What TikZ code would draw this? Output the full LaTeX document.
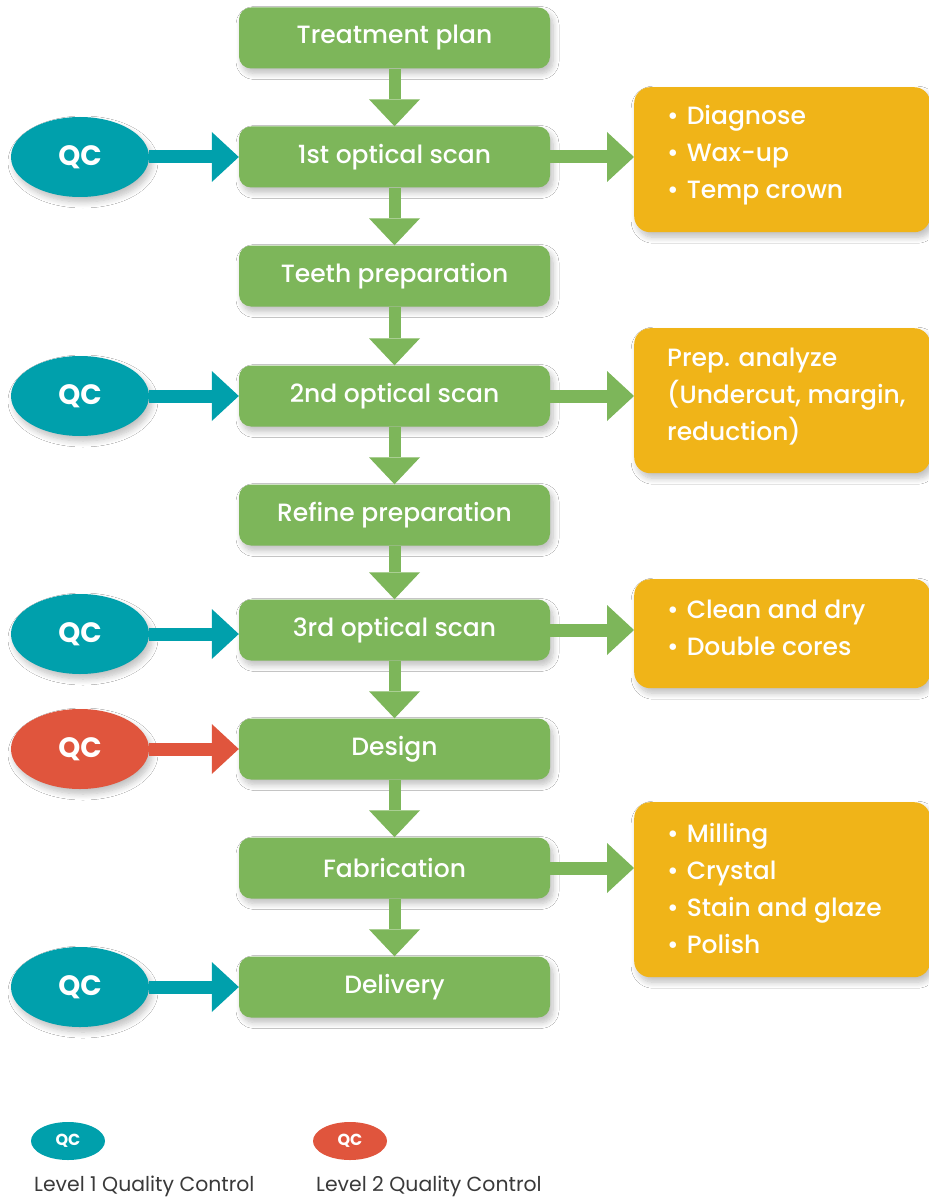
\documentclass[tikz,border=0pt]{standalone}
\usepackage{fontspec}
\setmainfont{Poppins}
\newfontfamily\medfont{Poppins Medium}
\usetikzlibrary{shapes.geometric,shadows.blur}
\definecolor{grn}{HTML}{7DB65A}
\definecolor{teal}{HTML}{00A0AC}
\definecolor{red}{HTML}{E0553D}
\definecolor{org}{HTML}{F0B418}
\definecolor{txt}{HTML}{3A3A3A}
\tikzset{
  shd/.style={blur shadow={shadow xshift=3pt,shadow yshift=-5pt,shadow blur steps=8,shadow opacity=25,shadow blur radius=6pt}},
  stepbox/.style={shd,fill=grn,rounded corners=12pt,minimum width=311pt,minimum height=61pt,inner sep=0pt,
    text=white,font=\medfont\fontsize{25}{28}\selectfont},
  infobox/.style={shd,fill=org,rounded corners=16pt,minimum width=296pt,inner sep=0pt,anchor=north west},
  infotext/.style={text=white,font=\medfont\fontsize{25}{37}\selectfont,align=left,anchor=west,inner sep=0pt},
  qc/.style={shd,ellipse,fill=#1,minimum width=138pt,minimum height=80pt,inner sep=0pt,text=white,
    font=\fontsize{28}{30}\selectfont\bfseries},
  qcs/.style={ellipse,fill=#1,minimum width=74pt,minimum height=38pt,inner sep=0pt,text=white,
    font=\fontsize{16}{18}\selectfont\bfseries},
  legend/.style={text=txt,font=\fontsize{20.4}{24}\selectfont,anchor=west,inner sep=0pt}
}
\newcommand{\varr}[2]{%
  \fill[grn] ([xshift=-6pt]#1.south) rectangle ([xshift=6pt,yshift=27pt]#2.north);
  \fill[grn] ([xshift=-25.5pt,yshift=27pt]#2.north) -- (#2.north) -- ([xshift=25.5pt,yshift=27pt]#2.north) -- cycle;}
\newcommand{\harr}[3]{%
  \fill[#3] ([yshift=6.5pt]#1.east) rectangle ([xshift=-27pt,yshift=-6.5pt]#2.west |- #1.east);
  \fill[#3] ([xshift=-27pt,yshift=25pt]#2.west |- #1.east) -- (#2.west |- #1.east) -- ([xshift=-27pt,yshift=-25pt]#2.west |- #1.east) -- cycle;}
\newcommand{\bul}{•\hspace{8pt}}
\begin{document}
\begin{tikzpicture}[x=1pt,y=-1pt]
\useasboundingbox (0,0) rectangle (928,1198);
\fill[white] (0,0) rectangle (928,1198);
% green steps
\node[stepbox] (s1) at (394.5,38) {Treatment plan};
\node[stepbox] (s2) at (394.5,157) {1st optical scan};
\node[stepbox] (s3) at (394.5,276) {Teeth preparation};
\node[stepbox] (s4) at (394.5,396) {2nd optical scan};
\node[stepbox] (s5) at (394.5,515) {Refine preparation};
\node[stepbox] (s6) at (394.5,630) {3rd optical scan};
\node[stepbox] (s7) at (394.5,749) {Design};
\node[stepbox] (s8) at (394.5,868) {Fabrication};
\node[stepbox] (s9) at (394.5,987) {Delivery};
% QC ellipses
\node[qc=teal] (q2) at (80,157) {QC};
\node[qc=teal] (q4) at (80,396) {QC};
\node[qc=teal] (q6) at (80,634) {QC};
\node[qc=red] (q7) at (80,749) {QC};
\node[qc=teal] (q9) at (80,987) {QC};
% orange boxes
\node[infobox,minimum height=145pt] (o1) at (634,87) {};
\node[infobox,minimum height=145pt] (o2) at (634,328) {};
\node[infobox,minimum height=109pt] (o3) at (634,579) {};
\node[infobox,minimum height=175pt] (o4) at (634,802) {};
\node[infotext] (t1) at (667,155) {\bul Diagnose\\\bul Wax-up\\\bul Temp crown};
\node[infotext] (t2) at (667,397) {Prep. analyze\\(Undercut, margin,\\reduction)};
\node[infotext] (t3) at (667,628) {\bul Clean and dry\\\bul Double cores};
\node[infotext] (t4) at (667,888) {\bul Milling\\\bul Crystal\\\bul Stain and glaze\\\bul Polish};
% vertical arrows
\varr{s1}{s2}\varr{s2}{s3}\varr{s3}{s4}\varr{s4}{s5}\varr{s5}{s6}\varr{s6}{s7}\varr{s7}{s8}\varr{s8}{s9}
% QC arrows
\harr{q2}{s2}{teal}\harr{q4}{s4}{teal}\harr{q6}{s6}{teal}\harr{q7}{s7}{red}\harr{q9}{s9}{teal}
% right arrows
\harr{s2}{o1}{grn}\harr{s4}{o2}{grn}\harr{s6}{o3}{grn}\harr{s8}{o4}{grn}
% legend
\node[qcs=teal] (l1) at (68,1141) {QC};
\node[qcs=red] (l2) at (350,1141) {QC};
\node[legend] (lt1) at (34,1186) {Level 1 Quality Control};
\node[legend] (lt2) at (316,1186) {Level 2 Quality Control};
\end{tikzpicture}
\end{document}
